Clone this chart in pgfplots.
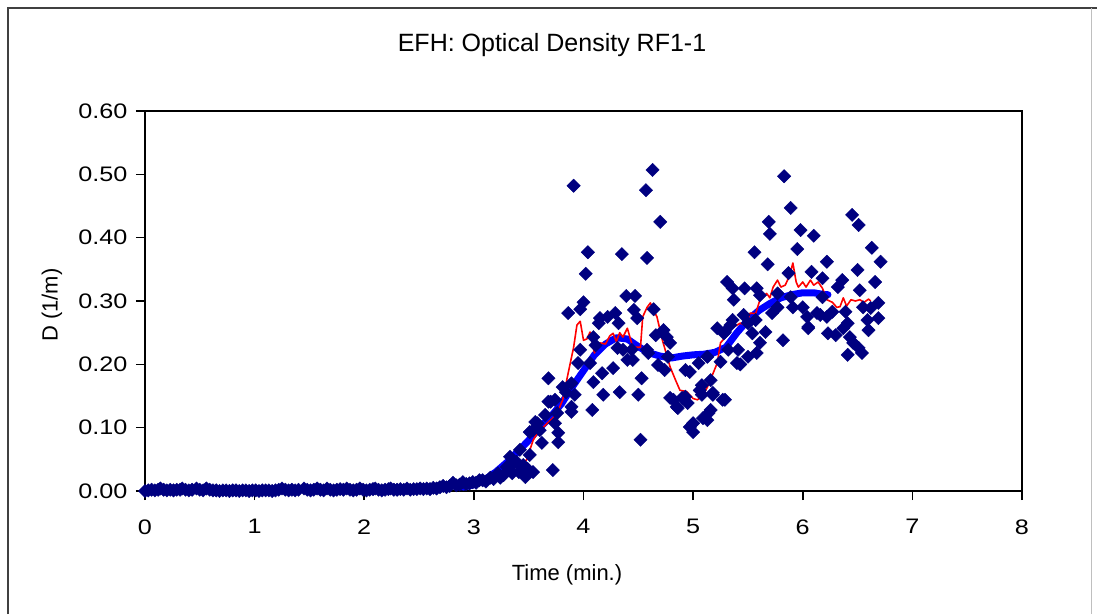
\documentclass[border=0pt]{standalone}
\usepackage{fontspec}
\setmainfont{Liberation Sans}
\newfontfamily\tickfont{Liberation Sans}[FakeStretch=1.2]
\usepackage{pgfplots}
\pgfplotsset{compat=1.18}
\usepackage{pgfplotstable}
\definecolor{navy}{RGB}{0,0,128}

\pgfplotstableread{
x y
0.00 0.000
0.03 0.001
0.06 0.002
0.09 0.001
0.12 0.002
0.14 0.004
0.17 0.002
0.20 0.001
0.23 0.002
0.26 0.001
0.29 0.002
0.32 0.002
0.34 0.004
0.37 0.002
0.40 0.001
0.43 0.002
0.47 0.004
0.50 0.002
0.53 0.001
0.56 0.004
0.59 0.002
0.62 0.001
0.65 0.001
0.68 0.000
0.71 0.001
0.74 0.001
0.77 0.000
0.80 0.001
0.83 0.001
0.86 0.000
0.89 0.001
0.92 0.001
0.95 0.000
0.98 0.001
1.01 0.001
1.04 0.000
1.07 0.001
1.10 0.001
1.13 0.001
1.16 0.000
1.19 0.001
1.22 0.002
1.25 0.004
1.28 0.002
1.31 0.001
1.34 0.002
1.37 0.001
1.40 0.002
1.45 0.004
1.48 0.002
1.51 0.001
1.54 0.002
1.57 0.004
1.60 0.002
1.63 0.001
1.66 0.004
1.69 0.002
1.72 0.001
1.75 0.002
1.78 0.003
1.81 0.002
1.84 0.004
1.87 0.002
1.90 0.001
1.93 0.002
1.96 0.004
1.99 0.002
2.02 0.001
2.05 0.002
2.08 0.003
2.10 0.004
2.13 0.002
2.16 0.001
2.19 0.002
2.22 0.003
2.24 0.004
2.27 0.002
2.30 0.002
2.33 0.003
2.36 0.002
2.39 0.004
2.42 0.002
2.45 0.003
2.48 0.003
2.51 0.004
2.54 0.003
2.57 0.004
2.60 0.003
2.63 0.005
2.66 0.004
2.69 0.006
2.72 0.008
2.75 0.006
2.78 0.008
2.81 0.013
2.84 0.009
2.87 0.010
2.90 0.014
2.93 0.011
2.96 0.012
2.99 0.014
3.02 0.013
3.05 0.017
3.08 0.017
3.11 0.015
3.15 0.021
3.18 0.019
3.22 0.028
3.24 0.021
3.27 0.025
3.30 0.038
3.33 0.054
3.35 0.028
3.37 0.045
3.39 0.046
3.41 0.030
3.42 0.065
3.45 0.041
3.47 0.022
3.49 0.035
3.51 0.057
3.51 0.093
3.54 0.030
3.54 0.096
3.56 0.109
3.58 0.107
3.60 0.096
3.62 0.076
3.65 0.120
3.68 0.141
3.68 0.178
3.70 0.141
3.72 0.033
3.74 0.107
3.74 0.144
3.76 0.123
3.77 0.077
3.77 0.092
3.81 0.164
3.84 0.156
3.86 0.281
3.89 0.125
3.89 0.133
3.89 0.170
3.91 0.482
3.92 0.152
3.95 0.202
3.97 0.287
3.97 0.223
4.00 0.298
4.02 0.343
4.04 0.377
4.06 0.202
4.08 0.128
4.09 0.172
4.09 0.243
4.11 0.230
4.14 0.265
4.15 0.273
4.17 0.186
4.18 0.152
4.22 0.275
4.27 0.194
4.29 0.281
4.31 0.226
4.32 0.265
4.33 0.156
4.35 0.374
4.36 0.223
4.39 0.308
4.40 0.207
4.44 0.223
4.45 0.207
4.46 0.286
4.47 0.308
4.49 0.273
4.50 0.152
4.52 0.081
4.53 0.178
4.57 0.475
4.58 0.368
4.58 0.223
4.59 0.218
4.63 0.507
4.64 0.287
4.66 0.246
4.68 0.199
4.70 0.425
4.73 0.254
4.74 0.191
4.76 0.243
4.77 0.212
4.79 0.234
4.79 0.147
4.82 0.144
4.85 0.133
4.86 0.131
4.90 0.147
4.93 0.191
4.93 0.149
4.95 0.139
4.97 0.188
4.97 0.101
5.00 0.107
5.00 0.093
5.05 0.202
5.06 0.159
5.08 0.167
5.08 0.152
5.09 0.115
5.13 0.112
5.13 0.212
5.14 0.123
5.16 0.175
5.16 0.128
5.18 0.152
5.18 0.155
5.22 0.257
5.25 0.204
5.27 0.144
5.28 0.249
5.29 0.251
5.29 0.144
5.31 0.330
5.32 0.223
5.34 0.262
5.36 0.320
5.36 0.270
5.37 0.302
5.40 0.202
5.41 0.223
5.43 0.200
5.46 0.278
5.47 0.320
5.50 0.265
5.50 0.212
5.54 0.249
5.56 0.377
5.57 0.270
5.58 0.320
5.58 0.218
5.61 0.309
5.61 0.234
5.66 0.251
5.68 0.358
5.69 0.425
5.70 0.406
5.72 0.281
5.77 0.312
5.77 0.290
5.82 0.238
5.83 0.497
5.87 0.344
5.89 0.447
5.89 0.306
5.91 0.290
5.95 0.382
5.98 0.412
6.00 0.290
6.04 0.275
6.05 0.257
6.05 0.259
6.08 0.346
6.10 0.403
6.13 0.281
6.16 0.278
6.18 0.336
6.18 0.306
6.22 0.362
6.22 0.275
6.23 0.249
6.27 0.283
6.30 0.246
6.32 0.322
6.36 0.333
6.37 0.257
6.39 0.283
6.41 0.265
6.41 0.215
6.43 0.243
6.45 0.436
6.46 0.234
6.50 0.349
6.51 0.420
6.51 0.226
6.52 0.317
6.54 0.218
6.55 0.290
6.59 0.270
6.60 0.254
6.62 0.289
6.63 0.384
6.66 0.330
6.69 0.297
6.69 0.273
6.71 0.362
}\scatterdata

\pgfplotstableread{
x y
2.90 0.006
3.00 0.010
3.10 0.018
3.20 0.030
3.30 0.045
3.40 0.062
3.50 0.080
3.60 0.100
3.70 0.117
3.80 0.138
3.90 0.165
4.00 0.190
4.10 0.215
4.20 0.232
4.30 0.242
4.40 0.240
4.50 0.228
4.60 0.218
4.70 0.213
4.80 0.210
4.90 0.213
5.00 0.215
5.10 0.216
5.20 0.219
5.30 0.227
5.40 0.250
5.50 0.270
5.60 0.285
5.70 0.296
5.80 0.305
5.90 0.310
6.00 0.313
6.10 0.313
6.20 0.310
6.23 0.310
}\bluedata

\pgfplotstableread{
x y
2.90 0.006
3.10 0.015
3.20 0.020
3.30 0.030
3.40 0.040
3.48 0.049
3.54 0.080
3.58 0.092
3.63 0.100
3.67 0.107
3.72 0.115
3.76 0.123
3.81 0.144
3.86 0.186
3.91 0.227
3.94 0.262
3.97 0.268
4.00 0.238
4.03 0.240
4.06 0.251
4.10 0.218
4.15 0.234
4.20 0.232
4.24 0.245
4.27 0.249
4.30 0.236
4.33 0.250
4.36 0.243
4.40 0.257
4.45 0.227
4.52 0.227
4.54 0.275
4.58 0.290
4.61 0.297
4.64 0.285
4.67 0.275
4.72 0.238
4.79 0.196
4.84 0.175
4.88 0.159
4.94 0.157
5.00 0.146
5.04 0.144
5.09 0.152
5.13 0.164
5.18 0.185
5.22 0.202
5.25 0.234
5.28 0.240
5.31 0.254
5.36 0.258
5.43 0.265
5.48 0.262
5.52 0.281
5.57 0.280
5.61 0.302
5.67 0.312
5.70 0.305
5.73 0.322
5.77 0.333
5.80 0.322
5.84 0.325
5.88 0.340
5.91 0.360
5.94 0.330
5.96 0.322
6.00 0.330
6.03 0.322
6.07 0.333
6.10 0.325
6.14 0.330
6.18 0.320
6.22 0.302
6.27 0.298
6.31 0.290
6.34 0.291
6.37 0.305
6.40 0.292
6.44 0.302
6.48 0.300
6.52 0.302
6.56 0.298
6.60 0.303
6.62 0.300
}\reddata

\begin{document}
\begin{tikzpicture}
\useasboundingbox (0pt,0pt) rectangle (1097pt,-614pt);
\fill[white] (0pt,0pt) rectangle (1097pt,-614pt);
\draw[line width=2pt, black!75] (8pt,-614pt) -- (8pt,-8pt) -- (1097pt,-8pt);
\draw[line width=1pt, black!25] (1091pt,-8pt) -- (1091pt,-614pt);
\node[font=\fontsize{25}{30}\selectfont] at (552pt,-45pt) {EFH: Optical Density RF1-1};
\node[font=\fontsize{22}{26}\selectfont] at (567pt,-575pt) {Time (min.)};
\node[font=\fontsize{22}{26}\selectfont, rotate=90] at (52pt,-305pt) {D (1/m)};
\begin{axis}[
  at={(145pt,-491pt)}, anchor=south west,
  width=877pt, height=380pt, scale only axis,
  xmin=0, xmax=8, ymin=0, ymax=0.6,
  xtick={0,1,2,3,4,5,6,7,8},
  ytick={0,0.1,0.2,0.3,0.4,0.5,0.6},
  tick pos=left, tick align=outside,
  major tick length=9pt,
  axis line style={line width=1.6pt},
  every tick/.style={line width=1.6pt, black},
  /pgf/number format/assume math mode=true,
  ticklabel style={font=\tickfont\fontsize{21}{25}\selectfont},
  xticklabel style={yshift=-16pt},
  yticklabel style={xshift=-5pt, /pgf/number format/.cd, fixed, fixed zerofill, precision=2},
  clip=false,
]
\addplot[blue, line width=7pt, line join=round, line cap=round] table[x=x,y=y] {\bluedata};
\addplot[only marks, mark=square*, mark size=4.7pt, mark options={rotate=45, fill=navy, draw=navy}] table[x=x,y=y] {\scatterdata};
\addplot[red, line width=1.6pt, line join=round] table[x=x,y=y] {\reddata};
\end{axis}
\end{tikzpicture}
\end{document}
